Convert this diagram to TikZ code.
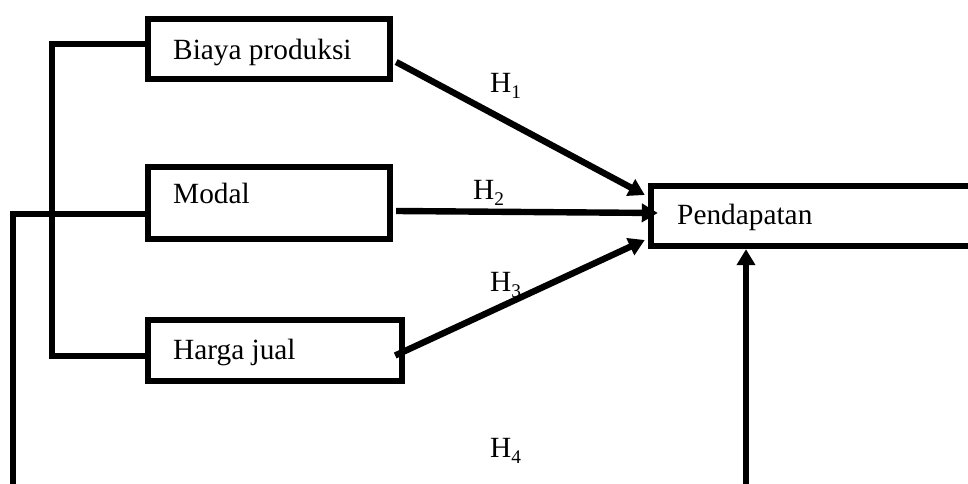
\documentclass[tikz,border=0pt]{standalone}
\usepackage{fontspec}
\setmainfont{Liberation Serif}
\usetikzlibrary{arrows.meta,calc}
\newcommand\hsub[1]{H\raisebox{-4pt}{\fontsize{14.5}{15}\selectfont #1}}
\begin{document}
\begin{tikzpicture}[x=0.75pt,y=-0.75pt,
  line width=4.8pt, line join=miter,
  boxnode/.style={draw, line width=4.8pt, inner sep=0pt},
  lbl/.style={anchor=base west, inner sep=0pt, font=\fontsize{22}{26}\selectfont},
  arr/.style={-{Triangle[length=12pt,width=13.5pt]}}
]
\clip (0,0) rectangle (968,484);
\fill[white] (0,0) rectangle (968,484);
% boxes
\node[boxnode, minimum width=242*0.75pt, minimum height=60*0.75pt] (bp) at (269,49) {};
\node[boxnode, minimum width=242*0.75pt, minimum height=72*0.75pt] (m) at (269,203) {};
\node[boxnode, minimum width=254*0.75pt, minimum height=61*0.75pt] (hj) at (275,350.5) {};
\node[boxnode, minimum width=449*0.75pt, minimum height=60*0.75pt] (p) at (875.5,216) {};
% texts
\node[lbl] (tbp) at (170,60) {Biaya produksi};
\node[lbl] (tm) at (170,204) {Modal};
\node[lbl] (thj) at (170,360) {Harga jual};
\node[lbl] (tp) at (674,225) {Pendapatan};
% hypothesis labels
\node[lbl] (h1) at (487,93) {\hsub{1}};
\node[lbl] (h2) at (470,200) {\hsub{2}};
\node[lbl] (h3) at (487,292) {\hsub{3}};
\node[lbl] (h4) at (487,458) {\hsub{4}};
% bracket joining the three variables
\coordinate (c1) at (52,44);
\coordinate (c2) at (52,356);
\draw (bp.west |- c1) -- (c1) -- (c2) -- (hj.west |- c2);
% outer line from Modal
\coordinate (o1) at (13,214);
\coordinate (o2) at (13,500);
\draw (m.west |- o1) -- (o1) -- (o2);
% vertical arrow to Pendapatan
\coordinate (v) at (746,500);
\draw[arr] (v) -- (v |- p.south);
% hypothesis arrows
\draw[arr] ($(bp.east)+(3,13)$) -- ($(p.west)+(-3,-21)$);
\draw[arr] ($(m.east)+(3,8)$) -- ($(p.west)+(10,-3)$);
\draw[arr] ($(hj.east)+(-10,5)$) -- ($(p.west)+(-3,24)$);
\end{tikzpicture}
\end{document}
